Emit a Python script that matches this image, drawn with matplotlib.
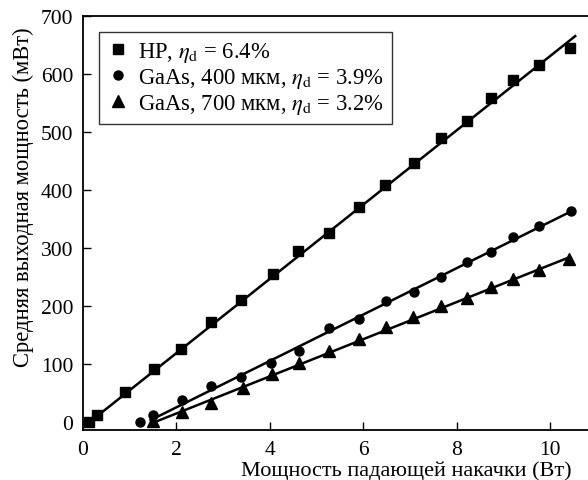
import matplotlib
matplotlib.use("Agg")
from matplotlib import pyplot as plt

plt.rcParams['font.family'] = ['Liberation Serif', 'DejaVu Serif']
plt.rcParams['mathtext.fontset'] = 'stix'

# HP
hp_x = [0.14, 0.31, 0.90, 1.52, 2.10, 2.74, 3.38, 4.06, 4.61, 5.27, 5.92, 6.47,
        7.09, 7.67, 8.23, 8.74, 9.21, 9.77, 10.43]
hp_y = [0, 12, 51, 91, 125, 172, 210, 255, 295, 325, 371, 409,
        446, 489, 518, 558, 589, 616, 644]
hp_fit_x = [0.15, 10.54]
hp_fit_y = [0, 665]

# GaAs, 400 mkm
g4_x = [1.22, 1.49, 2.13, 2.74, 3.38, 4.03, 4.62, 5.27, 5.92, 6.49, 7.09, 7.67,
        8.23, 8.74, 9.21, 9.77, 10.44]
g4_y = [0, 12, 38, 61, 78, 101, 123, 162, 177, 208, 224, 250,
        275, 293, 318, 338, 364]
g4_fit_x = [1.45, 10.38]
g4_fit_y = [3, 360]

# GaAs, 700 mkm
g7_x = [1.49, 2.13, 2.74, 3.43, 4.04, 4.63, 5.27, 5.92, 6.49, 7.06, 7.67,
        8.23, 8.74, 9.21, 9.77, 10.41]
g7_y = [1, 17, 33, 58, 83, 102, 122, 143, 164, 180, 200,
        214, 233, 246, 262, 281]
g7_fit_x = [1.55, 10.36]
g7_fit_y = [0, 282]

labels = [r'HP, $\eta_\mathrm{d}$ = 6.4%',
          r'GaAs, 400 мкм, $\eta_\mathrm{d}$ = 3.9%',
          r'GaAs, 700 мкм, $\eta_\mathrm{d}$ = 3.2%']

fig = plt.figure(figsize=(5.88, 4.81), dpi=100)
ax = fig.add_axes([0.141, 0.104, 0.869, 0.861])

ax.plot(hp_fit_x, hp_fit_y, color='black', lw=1.8)
ax.plot(g4_fit_x, g4_fit_y, color='black', lw=1.8)
ax.plot(g7_fit_x, g7_fit_y, color='black', lw=1.8)
ax.plot(hp_x, hp_y, 's', color='black', ms=6.5, ls='none', label=labels[0])
ax.plot(g4_x, g4_y, 'o', color='black', ms=6.5, ls='none', label=labels[1])
ax.plot(g7_x, g7_y, '^', color='black', ms=9, ls='none', label=labels[2])

ax.set_xlim(0, 10.94)
ax.set_ylim(-14, 700)
ax.set_xticks([0, 2, 4, 6, 8, 10])
ax.set_yticks(range(0, 701, 100))
ax.tick_params(direction='in', length=6, width=1, labelsize=15.5)
ax.tick_params(axis='x', pad=7.5)
ax.tick_params(axis='y', pad=7)
for s in ax.spines.values():
    s.set_linewidth(1.3)

ax.set_xlabel('Мощность падающей накачки (Вт)', fontsize=16, va='baseline')
ax.xaxis.set_label_coords(0.632, -0.109)
ax.set_ylabel('Средняя выходная мощность (мВт)', fontsize=16.3, labelpad=5, y=0.565)

leg = ax.legend(loc='upper left', fontsize=16.3, frameon=True, fancybox=False,
                edgecolor='black', handletextpad=0.4, handlelength=1.0,
                borderpad=0.35, labelspacing=0.1, borderaxespad=0.7)
leg.get_frame().set_linewidth(1.0)

fig.savefig('out.png', dpi=100)
